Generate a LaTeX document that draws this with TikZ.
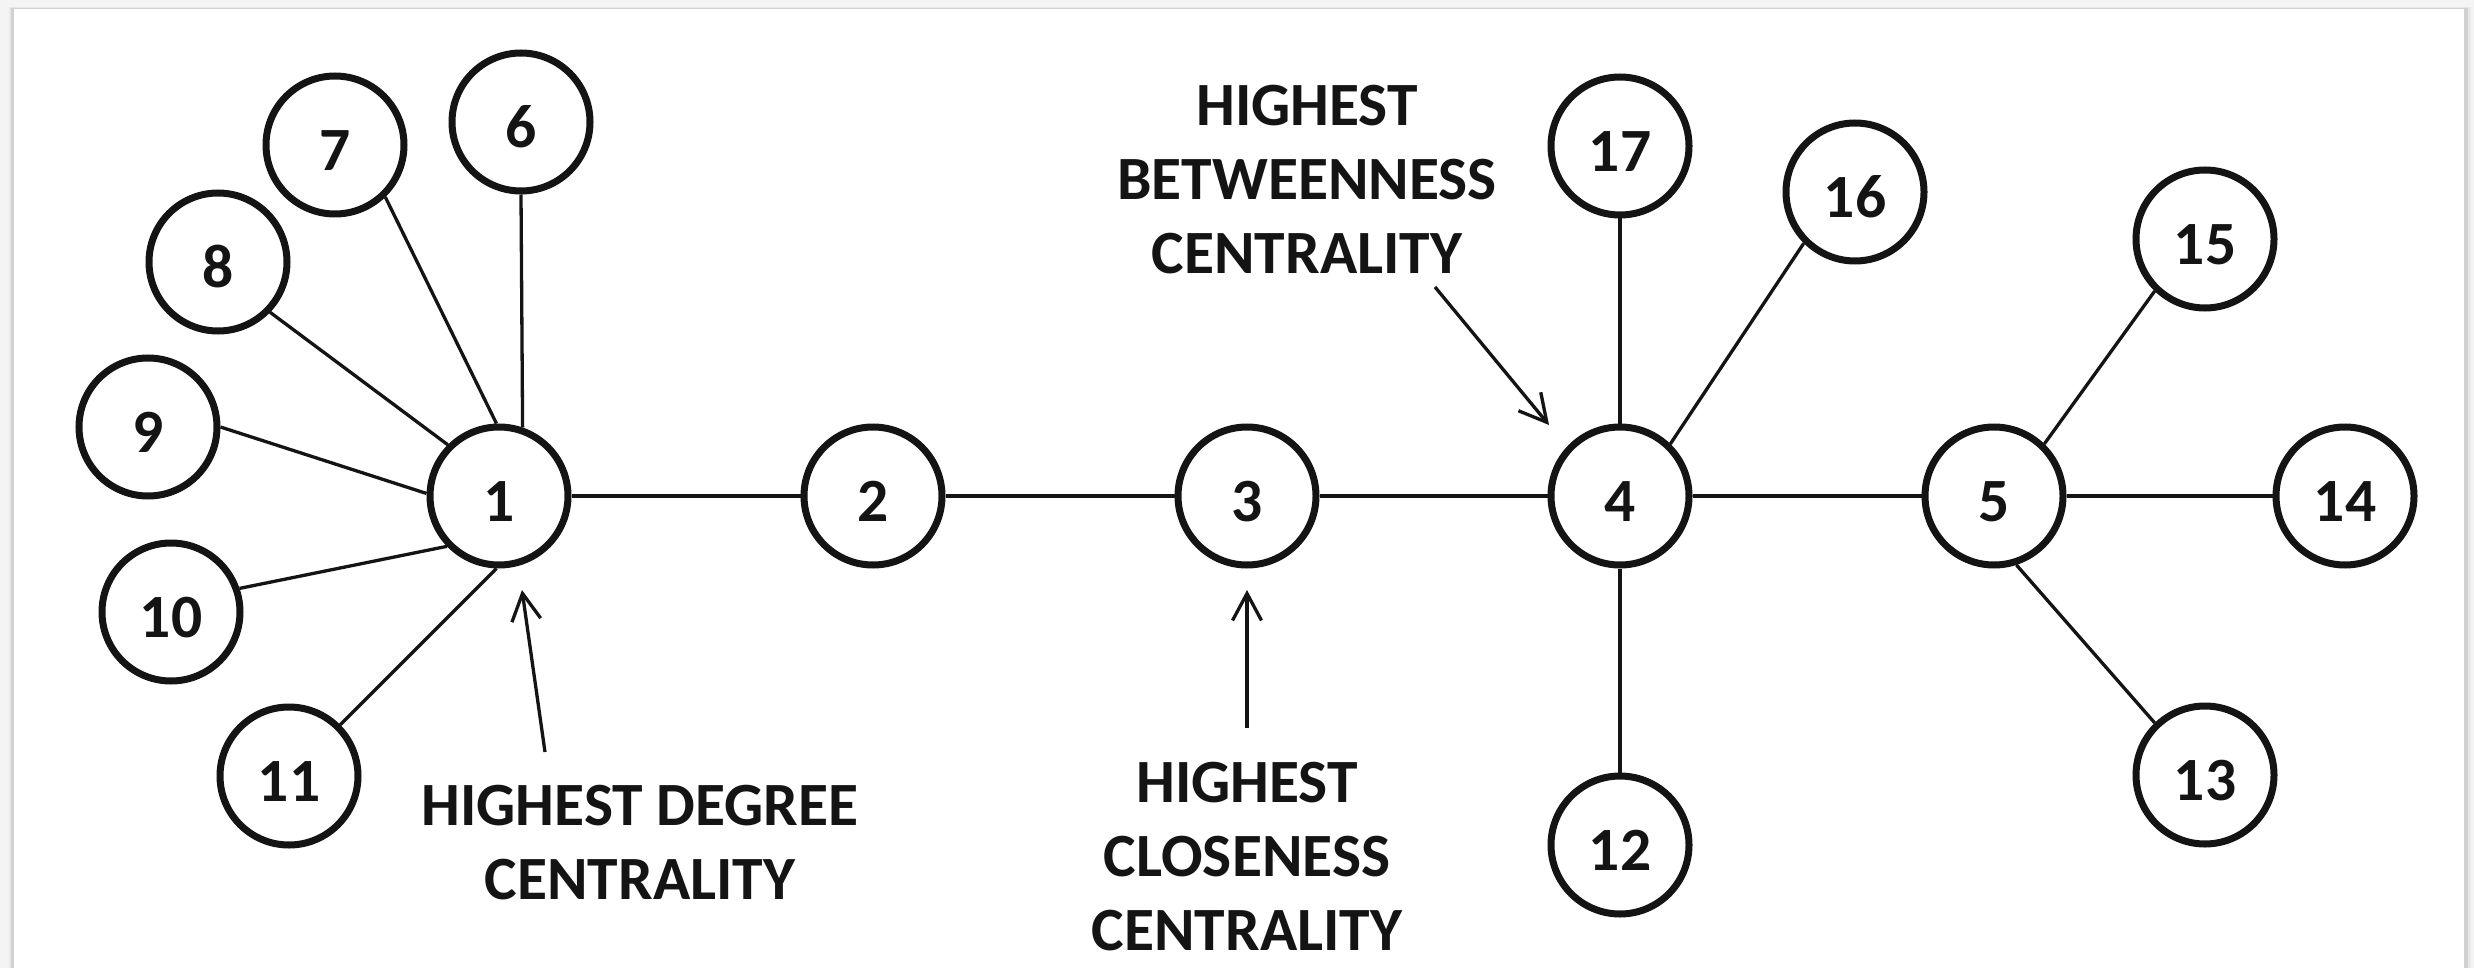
\documentclass[tikz,border=0pt]{standalone}
\usepackage{fontspec}
\setmainfont{Carlito}
\usetikzlibrary{arrows.meta}
\definecolor{ink}{RGB}{20,20,20}
\definecolor{pagegray}{RGB}{244,244,244}
\begin{document}
\begin{tikzpicture}[x=1pt,y=-1pt,
  vertex/.style={circle,draw=ink,line width=7pt,minimum size=138pt,inner sep=0pt,
    fill=white,text=ink,font=\bfseries\fontsize{61.5}{74}\selectfont,
    text height=51pt,text depth=0pt},
  link/.style={draw=ink,line width=3.3pt},
  pointer/.style={draw=ink,line width=3.3pt,-{Straight Barb[length=27pt,width=29pt]}},
  caption/.style={font=\bfseries\fontsize{61.5}{74}\selectfont,text=ink,
    align=center,inner sep=0pt}]
\useasboundingbox (0,0) rectangle (2474,968);
% sheet with a soft edge shadow
\fill[pagegray] (0,0) rectangle (2474,968);
\fill[black!9] (9,7) rectangle (2471,968);
\fill[black!18] (11,8) rectangle (2468,968);
\fill[white] (14,9) rectangle (2464,968);

% backbone
\node[vertex] (n1) at (499,496) {1};
\node[vertex] (n2) at (873,496) {2};
\node[vertex] (n3) at (1247,496) {3};
\node[vertex] (n4) at (1620,496) {4};
\node[vertex] (n5) at (1994,496) {5};
% leaves of 1
\node[vertex] (n6) at (521,122) {6};
\node[vertex] (n7) at (335,145) {7};
\node[vertex] (n8) at (218,262) {8};
\node[vertex] (n9) at (148,427) {9};
\node[vertex] (n10) at (171,612) {10};
\node[vertex] (n11) at (289,776) {11};
% leaves of 4
\node[vertex] (n17) at (1620,146) {17};
\node[vertex] (n16) at (1855,192) {16};
\node[vertex] (n12) at (1620,845) {12};
% leaves of 5
\node[vertex] (n15) at (2205,239) {15};
\node[vertex] (n14) at (2345,496) {14};
\node[vertex] (n13) at (2205,775) {13};

% edges
\draw[link] (n1.east) -- (n2.west);
\draw[link] (n2.east) -- (n3.west);
\draw[link] (n3.east) -- (n4.west);
\draw[link] (n4.east) -- (n5.west);
\draw[link] (n6.south) -- (n1.71);
\draw[link] (n7.314) -- (n1.92);
\draw[link] (n8.316) -- (n1.135);
\draw[link] (n9.0) -- (n1.178);
\draw[link] (n10.19) -- (n1.224);
\draw[link] (n11.45) -- (n1.268);
\draw[link] (n17.south) -- (n4.north);
\draw[link] (n4.46) -- (n16.225);
\draw[link] (n4.south) -- (n12.north);
\draw[link] (n5.46) -- (n15.226);
\draw[link] (n5.east) -- (n14.west);
\draw[link] (n5.288) -- (n13.134);

% annotations
\node[caption] (degree) at (640,843) {HIGHEST DEGREE\\CENTRALITY};
\node[caption] (closeness) at (1247,857) {HIGHEST\\CLOSENESS\\CENTRALITY};
\node[caption] (betweenness) at (1307,180) {HIGHEST\\BETWEENNESS\\CENTRALITY};

\coordinate (degTail) at (545,752);
\coordinate (degTip) at (522,590);
\coordinate (cloTail) at (1247,728);
\coordinate (cloTip) at (1247,590);
\coordinate (betTail) at (1435,287);
\coordinate (betTip) at (1549,425);
\draw[pointer] (degTail) -- (degTip);
\draw[pointer] (cloTail) -- (cloTip);
\draw[pointer] (betTail) -- (betTip);
\end{tikzpicture}
\end{document}
